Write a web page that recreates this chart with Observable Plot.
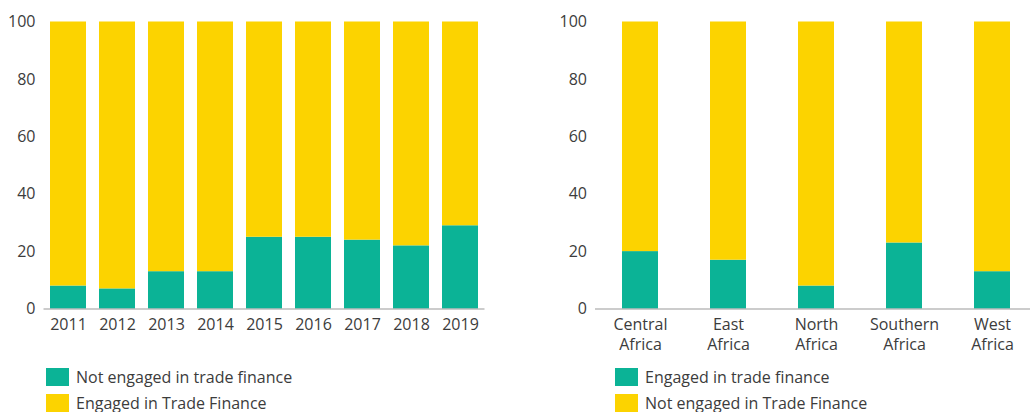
<!DOCTYPE html>
<html>
<head>
<meta charset="utf-8">
<script src="https://cdn.jsdelivr.net/npm/d3@7"></script>
<script src="https://cdn.jsdelivr.net/npm/@observablehq/plot@0.6"></script>
<style>
  html, body { margin: 0; padding: 0; background: #fff; width: 1030px; height: 412px; overflow: hidden; }
  body { position: relative; font-family: "Open Sans", sans-serif; color: #3c3c3c; }
  .panel { position: absolute; top: 0; }
  .panel svg { max-width: none !important; }
  .legend { position: absolute; font-size: 16px; color: #3c3c3c; white-space: nowrap; }
  .legend .row { display: flex; align-items: center; height: 25.5px; }
  .legend .sw { width: 23px; height: 18px; margin-right: 7px; flex: none; }
</style>
</head>
<body>
<div id="left" class="panel" style="left:0px; width:500px"></div>
<div id="right" class="panel" style="left:560px; width:476px"></div>
<div id="legLeft" class="legend" style="left:46px; top:364.5px"></div>
<div id="legRight" class="legend" style="left:615px; top:364.5px"></div>
<script>
// ---- data ----
const years = ["2011", "2012", "2013", "2014", "2015", "2016", "2017", "2018", "2019"];
const notEngagedByYear = [8, 7, 13, 13, 25, 25, 24, 22, 29];
const engagedByYear = [92, 93, 87, 87, 75, 75, 76, 78, 71];
const yearSeriesNames = ["Not engaged in trade finance", "Engaged in Trade Finance"];

const regions = ["Central Africa", "East Africa", "North Africa", "Southern Africa", "West Africa"];
const engagedByRegion = [20, 17, 8, 23, 13];
const notEngagedByRegion = [80, 83, 92, 77, 87];
const regionSeriesNames = ["Engaged in trade finance", "Not engaged in Trade Finance"];

const yTicks = [0, 20, 40, 60, 80, 100];
const colors = ["#0bb396", "#fcd300"];

function chart({cats, names, series, width, marginLeft, marginRight, pI, pO, fmt}) {
  const data = [];
  names.forEach((n, si) => cats.forEach((c, i) => data.push({cat: c, series: n, value: series[si][i]})));
  const H = 360;
  return Plot.plot({
    width, height: H,
    marginLeft, marginRight, marginTop: 21.5, marginBottom: H - 308.5,
    style: {fontFamily: '"Open Sans", sans-serif', fontSize: "16px", color: "#3c3c3c", background: "transparent", overflow: "visible", maxWidth: "none"},
    x: {domain: cats, paddingInner: pI, paddingOuter: pO, label: null},
    y: {domain: [0, 100], label: null},
    color: {domain: names, range: colors},
    marks: [
      Plot.barY(data, {x: "cat", y: "value", fill: "series"}),
      Plot.ruleY([0], {stroke: "#9a9a9a", strokeWidth: 1.2}),
      Plot.axisY({ticks: yTicks, tickSize: 0, tickPadding: 8.5, label: null, fontSize: 16}),
      Plot.axisX({tickSize: 0, tickPadding: 7, label: null, tickFormat: fmt, lineHeight: 1.25, fontSize: 16})
    ]
  });
}

document.getElementById("left").append(chart({
  cats: years, names: yearSeriesNames, series: [notEngagedByYear, engagedByYear],
  width: 500, marginLeft: 43.5, marginRight: 15.5, pI: 0.265, pO: 0.1325, fmt: d => d
}));

document.getElementById("right").append(chart({
  cats: regions, names: regionSeriesNames, series: [engagedByRegion, notEngagedByRegion],
  width: 476, marginLeft: 35, marginRight: 0, pI: 0.592, pO: 0.296, fmt: d => d.replace(" ", "\n")
}));

function legend(id, names) {
  const el = document.getElementById(id);
  names.forEach((n, i) => {
    const row = document.createElement("div");
    row.className = "row";
    const sw = document.createElement("div");
    sw.className = "sw";
    sw.style.background = colors[i];
    const t = document.createElement("span");
    t.textContent = n;
    row.append(sw, t);
    el.append(row);
  });
}
legend("legLeft", yearSeriesNames);
legend("legRight", regionSeriesNames);
</script>
</body>
</html>
